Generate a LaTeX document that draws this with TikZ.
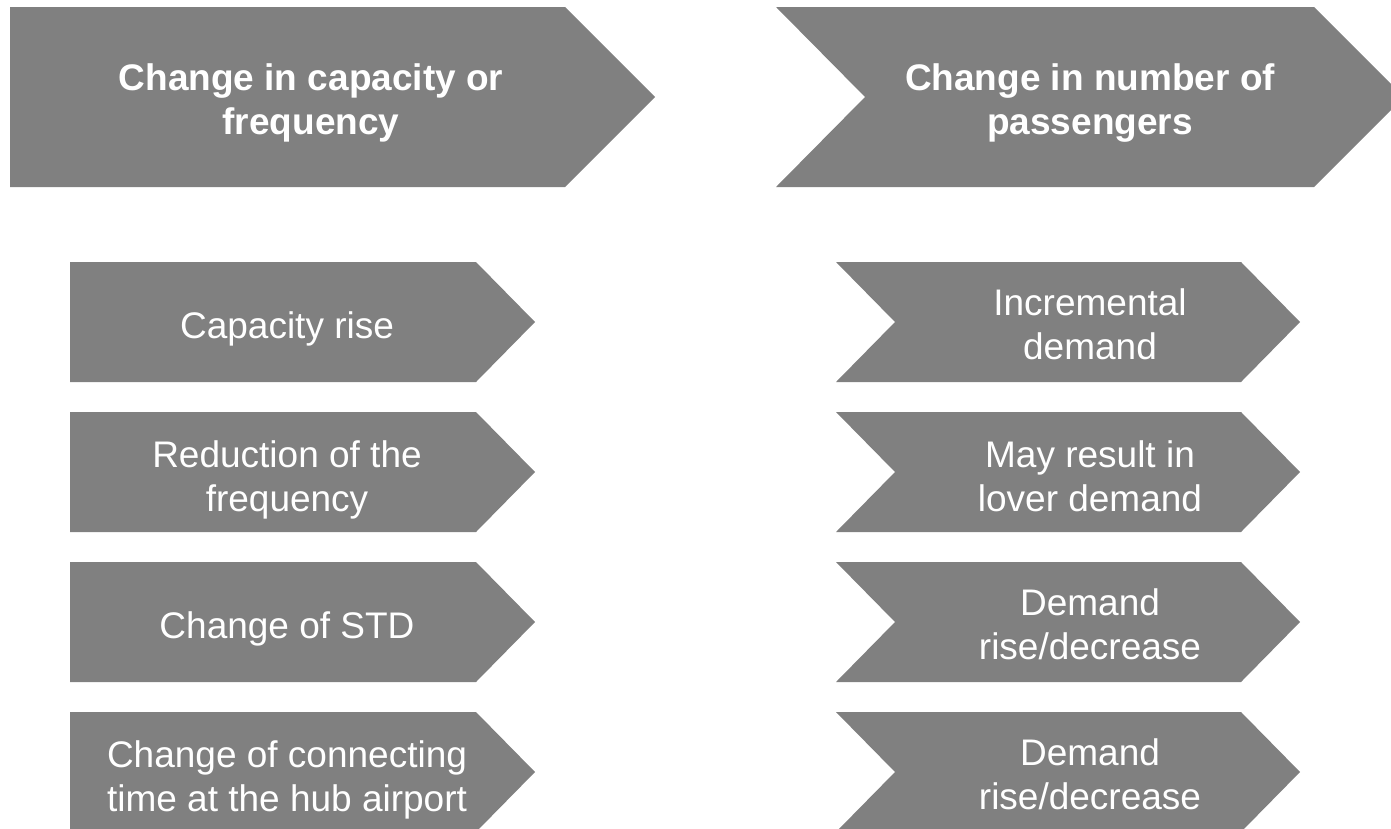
\documentclass[tikz,border=0pt]{standalone}
\usepackage{fontspec}
\setmainfont{Liberation Sans}
\definecolor{chev}{RGB}{128,128,128}
\tikzset{
  lbl/.style={text=white,align=center,inner sep=0pt,font=\fontsize{37bp}{44bp}\selectfont},
  lblb/.style={lbl,font=\fontsize{37bp}{44bp}\selectfont\bfseries},
}
\begin{document}
\begin{tikzpicture}[x=1bp,y=-1bp]
\useasboundingbox (0,0) rectangle (1391,828);
\clip (0,0) rectangle (1391,828);
% header chevrons
\fill[chev] (10,7) -- (565,7) -- (655,97) -- (565,187) -- (10,187) -- cycle;
\fill[chev] (776,7) -- (1314,7) -- (1404,97) -- (1314,187) -- (776,187) -- (865,97) -- cycle;
% row chevrons
\foreach \t in {262,412,562,712}{
  \fill[chev] (70,\t) -- (476,\t) -- (535,\t+60) -- (476,\t+120) -- (70,\t+120) -- cycle;
  \fill[chev] (836,\t) -- (1241,\t) -- (1300,\t+60) -- (1241,\t+120) -- (836,\t+120) -- (895,\t+60) -- cycle;
}
% header labels
\node[lblb,anchor=north] (h1) at (311,63) {Change in capacity or\\frequency};
\node[lblb,anchor=north] (h2) at (1090,63) {Change in number of\\passengers};
% left labels
\node[lbl,anchor=base] (l1) at (287,338) {Capacity rise};
\node[lbl,anchor=north] (l2) at (287,440) {Reduction of the\\frequency};
\node[lbl,anchor=base] (l3) at (287,638) {Change of STD};
\node[lbl,anchor=north] (l4) at (287,740) {Change of connecting\\time at the hub airport};
% right labels
\node[lbl,anchor=north] (r1) at (1090,288) {Incremental\\demand};
\node[lbl,anchor=north] (r2) at (1090,440) {May result in\\lover demand};
\node[lbl,anchor=north] (r3) at (1090,588) {Demand\\rise/decrease};
\node[lbl,anchor=north] (r4) at (1090,738) {Demand\\rise/decrease};
\end{tikzpicture}
\end{document}
